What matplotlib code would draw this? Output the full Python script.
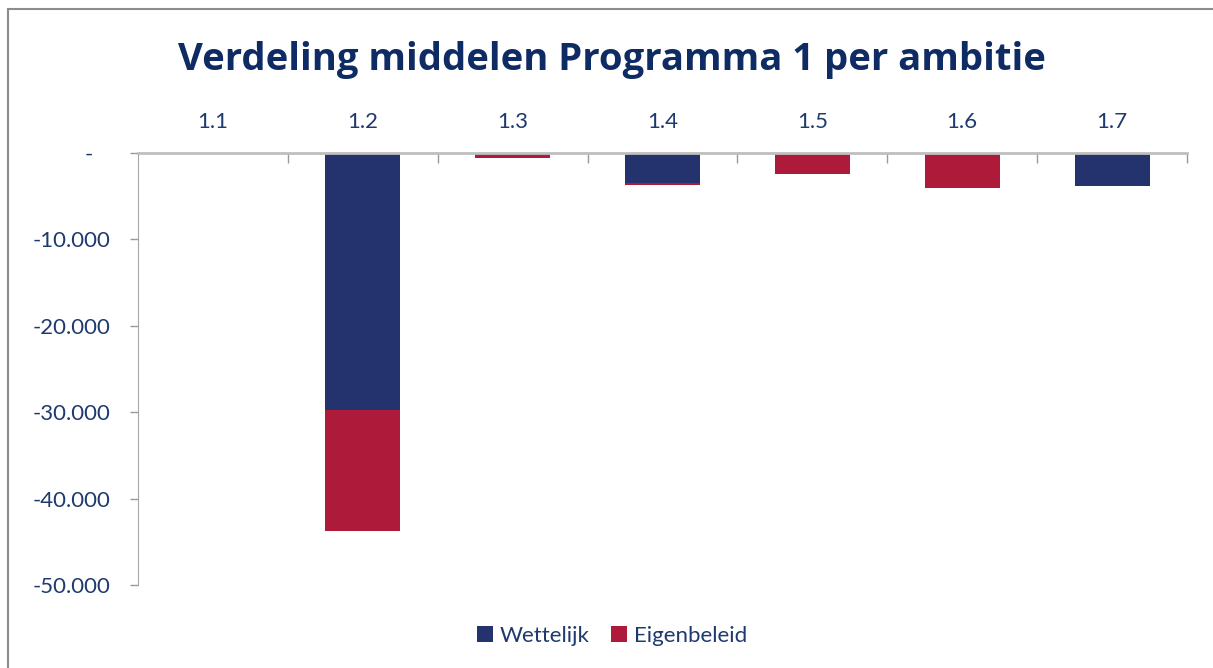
import matplotlib
matplotlib.use("Agg")
import matplotlib.pyplot as plt
from matplotlib.lines import Line2D
from matplotlib.ticker import FuncFormatter

categories = ["1.1", "1.2", "1.3", "1.4", "1.5", "1.6", "1.7"]
wettelijk = [0, -29780, 0, -3500, 0, 0, -3820]
eigenbeleid = [0, -13930, -580, -160, -2470, -4090, 0]
series_names = ["Wettelijk", "Eigenbeleid"]
title = "Verdeling middelen Programma 1 per ambitie"

navy = "#24336E"
crimson = "#AD1A3A"
txt = "#1F3A6E"

plt.rcParams["font.family"] = ["Lato", "DejaVu Sans"]

W, H = 1213, 668
fig = plt.figure(figsize=(W / 100, H / 100), dpi=100)
ax = fig.add_axes([138 / W, 1 - 585 / H, (1187 - 138) / W, (585 - 153) / H])

x = list(range(len(categories)))
ax.bar(x, wettelijk, width=0.5, color=navy, label=series_names[0], zorder=2)
ax.bar(x, eigenbeleid, width=0.5, bottom=wettelijk, color=crimson, label=series_names[1], zorder=2)

ax.set_xlim(-0.5, len(categories) - 0.5)
ax.set_ylim(-50000, 0)
ax.set_yticks([0, -10000, -20000, -30000, -40000, -50000])

def fmt(v, pos):
    if v == 0:
        return "-   "
    return f"{v:,.0f}".replace(",", ".")
ax.yaxis.set_major_formatter(FuncFormatter(fmt))

ax.xaxis.tick_top()
ax.set_xticks(x)
ax.set_xticklabels(categories)
ax.set_xticks([i + 0.5 for i in x], minor=True)
ax.tick_params(axis="x", which="major", length=0, pad=15, labelsize=16, labelcolor=txt)
ax.tick_params(axis="x", which="minor", length=7, color="#9A9A9A", width=1, direction="in")
ax.tick_params(axis="y", length=6, color="#9A9A9A", width=1, pad=14, labelsize=16, labelcolor=txt)

for s in ["right", "bottom"]:
    ax.spines[s].set_visible(False)
ax.spines["left"].set_color("#A6A6A6")
ax.spines["top"].set_color("#BFBFBF")
ax.spines["top"].set_linewidth(2)

fig.text(612 / W, 1 - 60 / H, title, ha="center", va="center",
         fontsize=27.5, fontweight="bold", color="#0F2B63", family="Open Sans")

fig.legend(loc="center", bbox_to_anchor=(612 / W, 1 - 636 / H), ncol=2, frameon=False,
           fontsize=16, labelcolor=txt, handlelength=0.7, handleheight=0.7,
           handletextpad=0.3, columnspacing=1.0)

fig.add_artist(Line2D([8 / W, 8 / W], [0, 1 - 9 / H], transform=fig.transFigure, color="#8C8C8C", lw=1.5))
fig.add_artist(Line2D([8 / W, 1], [1 - 9 / H, 1 - 9 / H], transform=fig.transFigure, color="#8C8C8C", lw=1.5))

fig.savefig("out.png", dpi=100)
